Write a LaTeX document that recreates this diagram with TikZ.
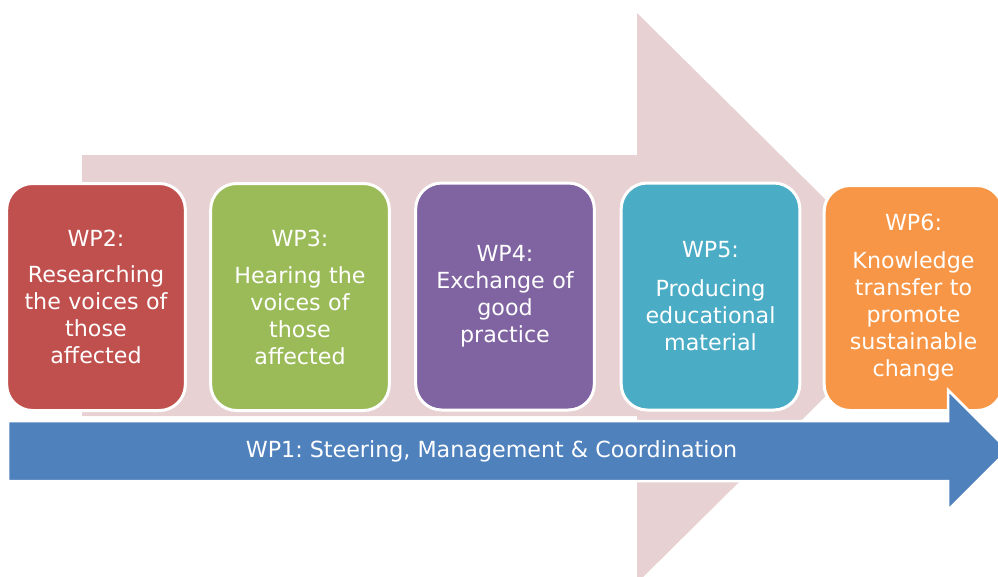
\documentclass[tikz,border=0pt]{standalone}
\usepackage{tikz}
\usepackage{xcolor}
\usepackage{fontspec}
\setmainfont{DejaVu Sans}
\frenchspacing
\definecolor{wpred}{HTML}{C0504D}
\definecolor{wpgreen}{HTML}{9BBB59}
\definecolor{wppurple}{HTML}{8064A2}
\definecolor{wpteal}{HTML}{4BACC6}
\definecolor{wporange}{HTML}{F79646}
\definecolor{wpblue}{HTML}{4F81BD}
\definecolor{wppink}{HTML}{E8D1D2}

\begin{document}
\begin{tikzpicture}[x=1pt,y=-1pt,
        wpbox/.style={draw=white,line width=3pt,rounded corners=26pt,minimum width=177pt,
            minimum height=227pt,text width=172pt,align=center,text=white,
            font=\fontsize{22.2}{27}\selectfont},
        wplabel/.style={text=white,font=\fontsize{22.2}{27}\selectfont}]
        \useasboundingbox (0,0) rectangle (998,576);
        % Draw the big background arrow
        \fill[wppink] (82,155) -- (637,155) -- (637,13) -- (925,298) -- (637,583)
            -- (637,416) -- (82,416) -- cycle;
        % Draw the work package boxes
        \node[wpbox,fill=wpred] (wp2) at (96,297) {WP2:\\[9pt]Researching\\the voices of\\those\\affected};
        \node[wpbox,fill=wpgreen] (wp3) at (300,297) {WP3:\\[10pt]Hearing the\\voices of\\those\\affected};
        \node[wpbox,fill=wppurple] (wp4) at (505,296.5) {WP4:\\Exchange of\\good\\practice};
        \node[wpbox,fill=wpteal] (wp5) at (710.5,296.5) {WP5:\\[12pt]Producing\\educational\\material};
        \node[wpbox,fill=wporange,minimum width=174pt,minimum height=225pt] (wp6) at (913.5,298)
            {WP6:\\[11pt]Knowledge\\transfer to\\promote\\sustainable\\change};
        % Draw the steering arrow on top
        \filldraw[fill=wpblue,draw=white,line width=2.5pt] (8,421) -- (948,421) -- (948,390)
            -- (1008,450) -- (948,510) -- (948,481) -- (8,481) -- cycle;
        \node[wplabel] (wp1) at (491.5,451) {WP1: Steering, Management \& Coordination};
    \end{tikzpicture}
\end{document}
